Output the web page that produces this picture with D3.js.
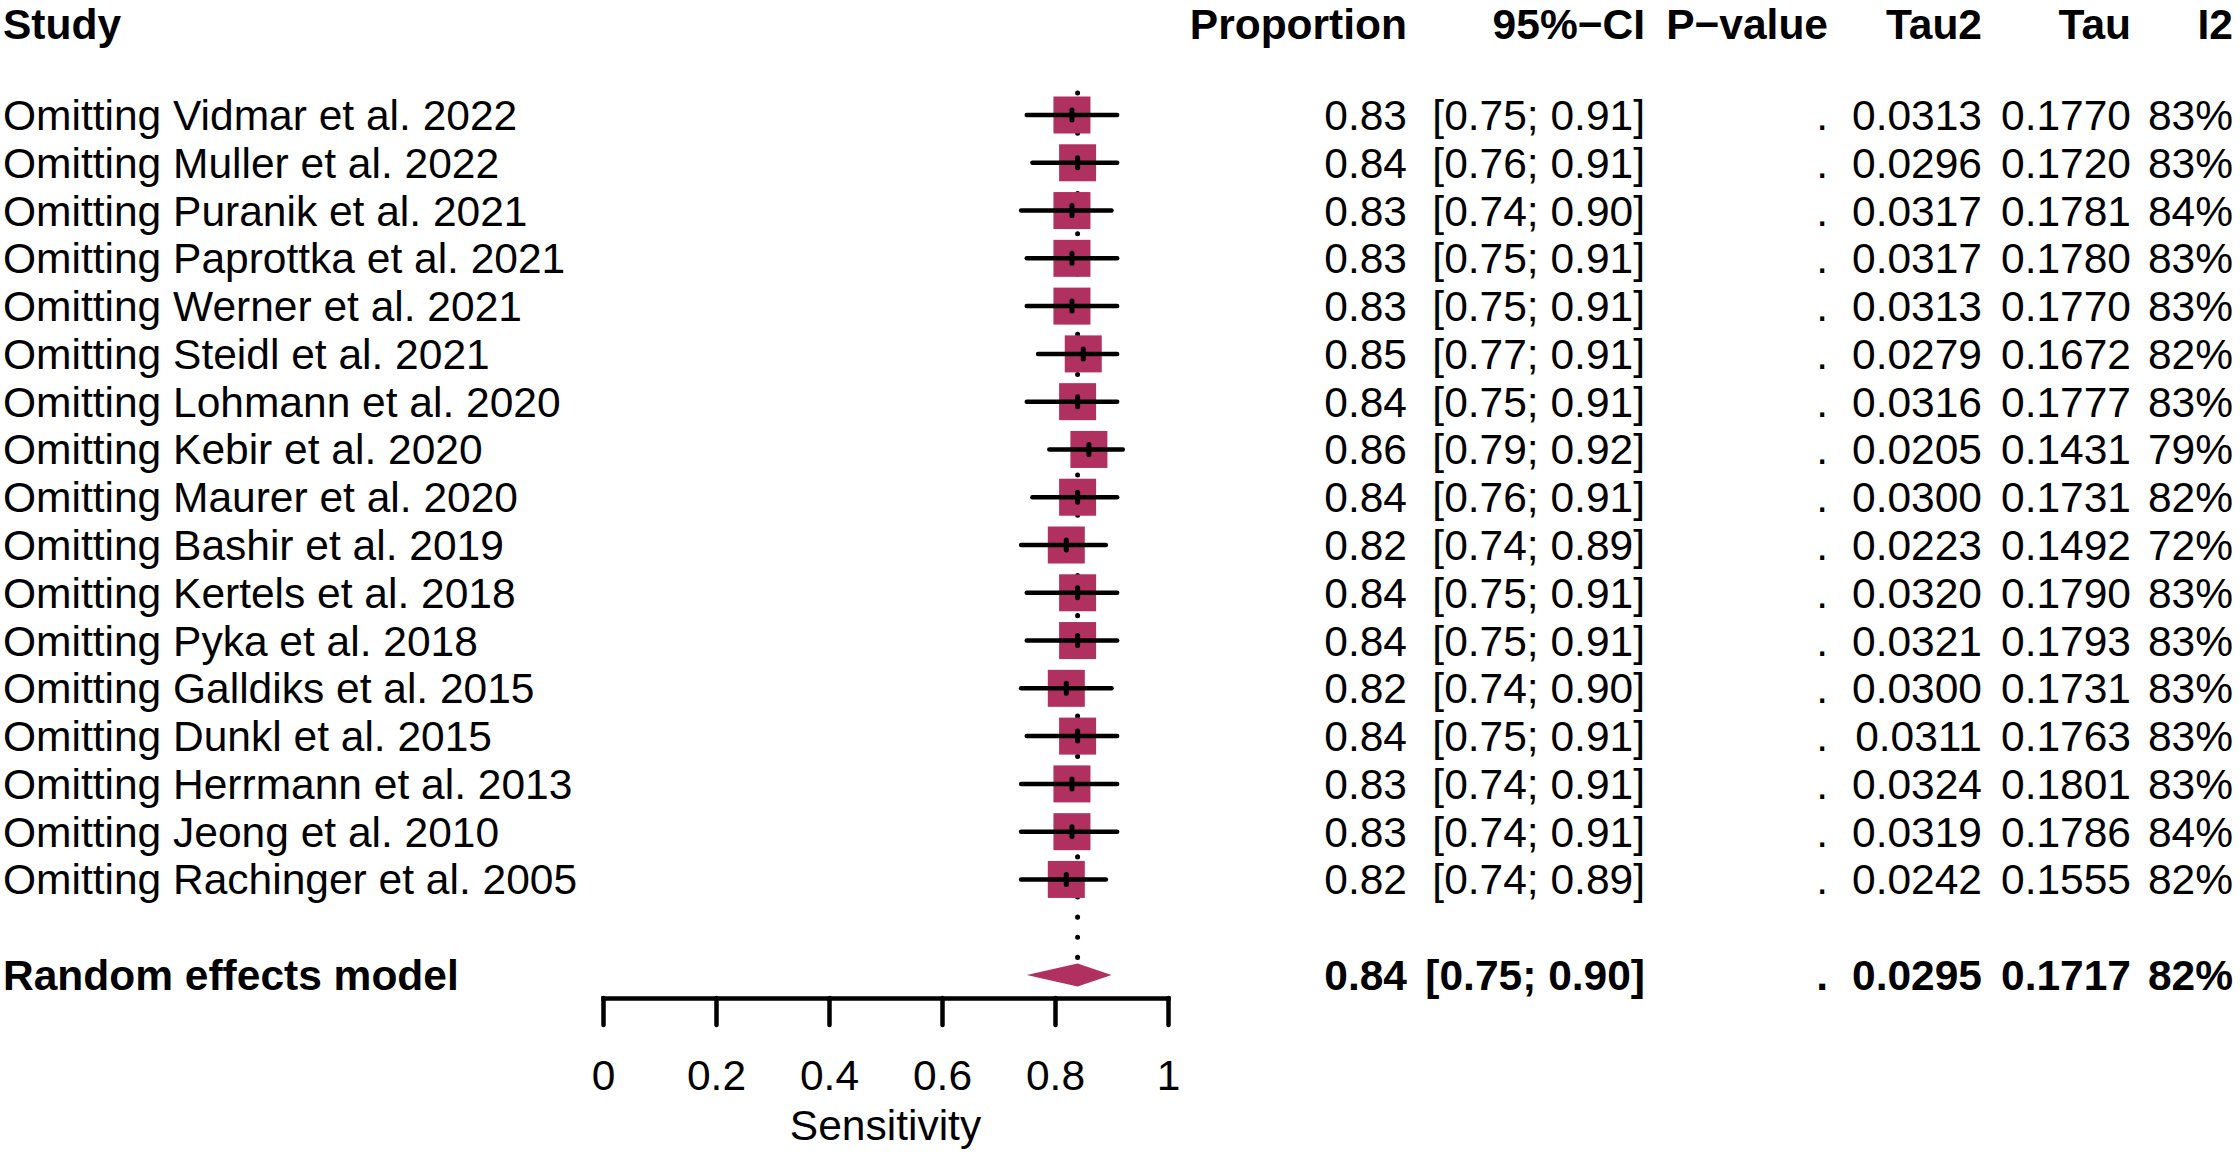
<!DOCTYPE html>
<html lang="en">
<head>
<meta charset="UTF-8">
<style>
  body { margin: 0; background: #fff; }
  svg { display: block; }
  text { font-family: "Liberation Sans", Arial, sans-serif; font-size: 42.5px; fill: #000; }
  .bold { font-weight: bold; }
</style>
</head>
<body>
<script src="https://cdn.jsdelivr.net/npm/d3@7"></script>
<script>
var studies = ["Vidmar et al. 2022", "Muller et al. 2022", "Puranik et al. 2021", "Paprottka et al. 2021",
  "Werner et al. 2021", "Steidl et al. 2021", "Lohmann et al. 2020", "Kebir et al. 2020",
  "Maurer et al. 2020", "Bashir et al. 2019", "Kertels et al. 2018", "Pyka et al. 2018",
  "Galldiks et al. 2015", "Dunkl et al. 2015", "Herrmann et al. 2013", "Jeong et al. 2010",
  "Rachinger et al. 2005"];
var proportion = [0.83, 0.84, 0.83, 0.83, 0.83, 0.85, 0.84, 0.86, 0.84, 0.82, 0.84, 0.84, 0.82, 0.84, 0.83, 0.83, 0.82];
var lower = [0.75, 0.76, 0.74, 0.75, 0.75, 0.77, 0.75, 0.79, 0.76, 0.74, 0.75, 0.75, 0.74, 0.75, 0.74, 0.74, 0.74];
var upper = [0.91, 0.91, 0.90, 0.91, 0.91, 0.91, 0.91, 0.92, 0.91, 0.89, 0.91, 0.91, 0.90, 0.91, 0.91, 0.91, 0.89];
var tau2 = [0.0313, 0.0296, 0.0317, 0.0317, 0.0313, 0.0279, 0.0316, 0.0205, 0.0300, 0.0223, 0.0320, 0.0321, 0.0300, 0.0311, 0.0324, 0.0319, 0.0242];
var tau = [0.1770, 0.1720, 0.1781, 0.1780, 0.1770, 0.1672, 0.1777, 0.1431, 0.1731, 0.1492, 0.1790, 0.1793, 0.1731, 0.1763, 0.1801, 0.1786, 0.1555];
var i2 = [83, 83, 84, 83, 83, 82, 83, 79, 82, 72, 83, 83, 83, 83, 83, 84, 82];

// pooled random effects model
var pooledLabel = "Random effects model";
var pooled = [0.84, 0.75, 0.90];   // estimate, lower, upper
var pooledTau2 = 0.0295, pooledTau = 0.1717, pooledI2 = 82;

var headers = ["Study", "Proportion", "95%\u2212CI", "P\u2212value", "Tau2", "Tau", "I2"];
var axisTicks = [0, 0.2, 0.4, 0.6, 0.8, 1];
var axisTitle = "Sensitivity";

var width = 2240, height = 1152
  ,maroon = "#B03060"
  ,f2 = d3.format(".2f"), f4 = d3.format(".4f")
  ,svg = d3.select("body").append("svg").attr("width", width).attr("height", height)
  ,x = d3.scaleLinear().domain([0, 1]).range([603, 1168])
  ,row = d3.scaleLinear().domain([0, 18]).range([130, 990]);   // text baselines

var n = studies.length, reRow = n + 1;
var mid = function(i) { return row(i) - 15; };   // vertical centre of a row

// column right edges
var colX = [3, 1407, 1645, 1828, 1982, 2131, 2233];

// headers (kept just inside the top edge)
svg.selectAll(".hdr").data(headers).enter().append("text")
  .attr("class", "bold")
  .attr("x", function(d, i) { return colX[i]; })
  .attr("y", row(-2) + 5)
  .attr("text-anchor", function(d, i) { return i == 0 ? "start" : "end"; })
  .text(function(d) { return d; });

// dotted reference line at pooled estimate
svg.append("line")
  .attr("x1", x(pooled[0])).attr("x2", x(pooled[0]))
  .attr("y1", mid(0) - 22).attr("y2", mid(reRow) - 12)
  .attr("stroke", "#000").attr("stroke-width", 5)
  .attr("stroke-linecap", "round").attr("stroke-dasharray", "0.1 20");

// study rows
var rows = svg.selectAll(".study").data(studies).enter().append("g").attr("class", "study");

rows.append("rect")
  .attr("x", function(d, i) { return x(proportion[i]) - 18.5; })
  .attr("y", function(d, i) { return mid(i) - 18.5; })
  .attr("width", 37).attr("height", 37)
  .attr("fill", maroon);

rows.append("line")
  .attr("x1", function(d, i) { return x(lower[i]); })
  .attr("x2", function(d, i) { return x(upper[i]); })
  .attr("y1", function(d, i) { return mid(i); })
  .attr("y2", function(d, i) { return mid(i); })
  .attr("stroke", "#000").attr("stroke-width", 4.5).attr("stroke-linecap", "round");

rows.append("line")
  .attr("x1", function(d, i) { return x(proportion[i]); })
  .attr("x2", function(d, i) { return x(proportion[i]); })
  .attr("y1", function(d, i) { return mid(i) - 5; })
  .attr("y2", function(d, i) { return mid(i) + 5; })
  .attr("stroke", "#000").attr("stroke-width", 5).attr("stroke-linecap", "round");

var cells = function(i) {
  return ["Omitting " + studies[i], f2(proportion[i]), "[" + f2(lower[i]) + "; " + f2(upper[i]) + "]",
    ".", f4(tau2[i]), f4(tau[i]), i2[i] + "%"];
};

rows.each(function(d, i) {
  d3.select(this).selectAll("text").data(cells(i)).enter().append("text")
    .attr("x", function(t, j) { return colX[j]; })
    .attr("y", row(i))
    .attr("text-anchor", function(t, j) { return j == 0 ? "start" : "end"; })
    .text(function(t) { return t; });
});

// pooled diamond
var dy = mid(reRow);
svg.append("path")
  .attr("d", "M" + x(pooled[1]) + "," + dy + "L" + x(pooled[0]) + "," + (dy - 11.5) +
    "L" + x(pooled[2]) + "," + dy + "L" + x(pooled[0]) + "," + (dy + 11.5) + "Z")
  .attr("fill", maroon);

var reCells = [pooledLabel, f2(pooled[0]), "[" + f2(pooled[1]) + "; " + f2(pooled[2]) + "]",
  ".", f4(pooledTau2), f4(pooledTau), pooledI2 + "%"];
svg.selectAll(".re").data(reCells).enter().append("text")
  .attr("class", "bold")
  .attr("x", function(d, i) { return colX[i]; })
  .attr("y", row(reRow))
  .attr("text-anchor", function(d, i) { return i == 0 ? "start" : "end"; })
  .text(function(d) { return d; });

// x axis
var axis = svg.append("g").attr("transform", "translate(0,998)")
  .call(d3.axisBottom(x).tickValues(axisTicks).tickSizeInner(27).tickSizeOuter(0)
    .tickPadding(40).tickFormat(d3.format("~g")));
axis.select(".domain").attr("stroke", "#000").attr("stroke-width", 4.5).attr("stroke-linecap", "square");
axis.selectAll(".tick line").attr("stroke", "#000").attr("stroke-width", 4.5).attr("stroke-linecap", "round");
axis.selectAll(".tick text").attr("fill", "#000").attr("dy", null).attr("y", 92)
  .style("font-size", "42.5px").style("font-family", "\"Liberation Sans\", Arial, sans-serif");

svg.append("text")
  .attr("x", (x(0) + x(1)) / 2).attr("y", 1140)
  .attr("text-anchor", "middle")
  .text(axisTitle);
</script>
</body>
</html>
